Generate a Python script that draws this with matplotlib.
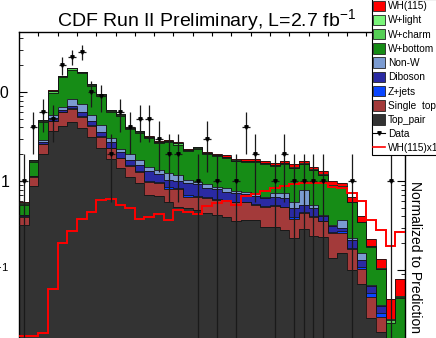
import numpy as np
import matplotlib
matplotlib.use("Agg")
import matplotlib.pyplot as plt
from matplotlib.patches import Patch
from matplotlib.lines import Line2D
from matplotlib.ticker import LogLocator, NullFormatter

plt.rcParams['font.family'] = ['Liberation Sans', 'DejaVu Sans']
plt.rcParams['mathtext.fontset'] = 'custom'
plt.rcParams['mathtext.rm'] = 'Liberation Sans'
plt.rcParams['mathtext.it'] = 'Liberation Sans:italic'
plt.rcParams['mathtext.bf'] = 'Liberation Sans:bold'

n_bins = 40
edges = np.arange(n_bins + 1)

# stack levels, each one is the running sum up to and including that sample
cum_top_pair = [0.320, 0.879, 2.01, 3.65, 4.20, 4.64, 3.97, 3.15, 2.37, 1.77,
                1.39, 1.12, 0.942, 0.696, 0.678, 0.581, 0.510, 0.497, 0.472, 0.437,
                0.415, 0.394, 0.355, 0.365, 0.365, 0.304, 0.304, 0.281, 0.229, 0.289,
                0.241, 0.235, 0.136, 0.155, 0.100, 0.0696, 0.0289, 0.0203, 0.005, 0.005]
cum_single_top = [0.399, 1.109, 2.585, 4.722, 5.914, 6.442, 5.278, 4.182, 3.147, 2.330,
                  1.799, 1.486, 1.272, 0.982, 0.950, 0.807, 0.807, 0.656, 0.666, 0.644,
                  0.612, 0.604, 0.581, 0.581, 0.544, 0.517, 0.524, 0.510, 0.374, 0.437,
                  0.399, 0.351, 0.262, 0.258, 0.172, 0.102, 0.0501, 0.0299, 0.005, 0.005]
cum_zjets = [0.404, 1.124, 2.618, 4.784, 5.991, 6.560, 5.375, 4.258, 3.204, 2.379,
             1.837, 1.512, 1.295, 1.0, 0.974, 0.850, 0.824, 0.696, 0.678, 0.656,
             0.623, 0.612, 0.585, 0.585, 0.551, 0.524, 0.531, 0.517, 0.397, 0.452,
             0.404, 0.355, 0.269, 0.276, 0.177, 0.109, 0.0547, 0.0326, 0.005, 0.005]
cum_diboson = [0.410, 1.138, 2.722, 5.065, 6.278, 6.962, 5.914, 4.722, 3.526, 2.722,
               2.101, 1.722, 1.512, 1.295, 1.198, 1.026, 1.0, 0.950, 0.925, 0.828,
               0.807, 0.758, 0.727, 0.724, 0.678, 0.644, 0.661, 0.639, 0.493, 0.538,
               0.493, 0.404, 0.312, 0.296, 0.217, 0.130, 0.0661, 0.0394, 0.005, 0.005]
cum_nonw = [0.420, 1.153, 2.888, 5.514, 6.836, 8.279, 7.274, 5.514, 4.258, 3.018,
            2.288, 1.995, 1.722, 1.437, 1.329, 1.240, 1.168, 1.026, 0.982, 0.925,
            0.850, 0.828, 0.778, 0.758, 0.714, 0.666, 0.733, 0.727, 0.585, 0.792,
            0.538, 0.415, 0.320, 0.365, 0.227, 0.154, 0.0679, 0.0404, 0.005, 0.005]
cum_wbottom = [0.544, 1.656, 4.601, 9.87, 14.55, 17.89, 16.14, 11.68, 9.02, 5.962,
               5.375, 3.838, 3.462, 3.042, 2.673, 2.743, 2.571, 2.174, 2.318, 2.011,
               1.909, 1.837, 1.678, 1.656, 1.656, 1.552, 1.474, 1.552, 1.400, 1.552,
               1.329, 1.168, 0.879, 0.856, 0.585, 0.346, 0.181, 0.1026, 0.0254, 0.0485]
cum_wcharm = [0.559, 1.699, 4.722, 10.13, 14.94, 18.37, 16.56, 11.99, 9.25, 6.117,
              5.514, 3.939, 3.552, 3.121, 2.743, 2.814, 2.639, 2.202, 2.379, 2.063,
              1.944, 1.860, 1.699, 1.678, 1.678, 1.593, 1.494, 1.593, 1.418, 1.573,
              1.346, 1.183, 0.890, 0.867, 0.587, 0.348, 0.184, 0.104, 0.0274, 0.0497]
cum_wlight = [0.573, 1.722, 4.846, 10.39, 15.25, 18.75, 16.91, 12.21, 9.42, 6.278,
              5.658, 3.991, 3.646, 3.162, 2.779, 2.836, 2.673, 2.230, 2.391, 2.080,
              1.960, 1.885, 1.722, 1.699, 1.699, 1.614, 1.512, 1.605, 1.448, 1.593,
              1.353, 1.189, 0.902, 0.879, 0.588, 0.349, 0.186, 0.1045, 0.0285, 0.0517]

# WH(115) signal, stacked on top and also drawn x10 as a line
wh115 = [0.0018, 0.0018, 0.00194, 0.00612, 0.0203, 0.0274, 0.0377, 0.0448, 0.0607, 0.062,
         0.0544, 0.0493, 0.0372, 0.0397, 0.0429, 0.0367, 0.0469, 0.0448, 0.0429, 0.0524,
         0.0566, 0.0599, 0.0531, 0.0673, 0.0718, 0.0776, 0.0828, 0.0874, 0.0921, 0.0942,
         0.0942, 0.0942, 0.0863, 0.0828, 0.0727, 0.0604, 0.0365, 0.0285, 0.0186, 0.0269]

data_counts = [1, 4, 6, 5, 20, 25, 28, 10, 9, 2,
               6, 4, 5, 5, 3, 2, 2, 0, 1, 3,
               1, 0, 1, 4, 2, 0, 1, 2, 1, 1,
               1, 1, 0, 0, 1, 0, 0, 0, 1, 0]

labels = ['WH(115)', 'W+light', 'W+charm', 'W+bottom', 'Non-W', 'Diboson',
          'Z+jets', 'Single  top', 'Top_pair']
colors = ['#ff0000', '#7af57a', '#55cf55', '#168c16', '#7b9bd1', '#2a2aa3',
          '#0a46ff', '#a33a3a', '#333333']

fig = plt.figure(figsize=(4.36, 3.38), dpi=100)
ax = fig.add_axes([19 / 436, -1 / 338, 386 / 436, 307 / 338])

wh_top = np.array(cum_wlight) + np.array(wh115)
levels = [np.full(n_bins, 1e-4), cum_top_pair, cum_single_top, cum_zjets, cum_diboson,
          cum_nonw, cum_wbottom, cum_wcharm, cum_wlight, wh_top]
stack_colors = colors[::-1]
for k in range(len(levels) - 1):
    lo = np.asarray(levels[k], float)
    hi = np.asarray(levels[k + 1], float)
    ax.stairs(hi, edges, baseline=lo, fill=True, facecolor=stack_colors[k],
              edgecolor='none', zorder=2)
    ax.stairs(hi, edges, baseline=None, color='#151515', lw=0.6, zorder=3)

ax.stairs(np.array(wh115) * 10, edges, baseline=None, color='#ff0000', lw=1.4, zorder=5)

counts = np.array(data_counts, float)
centers = edges[:-1] + 0.5
m = counts > 0
err = np.sqrt(counts[m])
err_lo = np.minimum(err, counts[m] - 1e-4)
ax.errorbar(centers[m], counts[m], yerr=[err_lo, err], xerr=0.4, fmt='v', ms=2.5,
            color='k', ecolor='#1a1a1a', elinewidth=0.9, capsize=0, zorder=6)

ax.set_yscale('log')
ax.set_xlim(0, n_bins)
ax.set_ylim(0.0168, 47.2)
ax.set_yticks([0.1, 1, 10])
ax.set_yticklabels(['$10^{-1}$', '1', '10'])
ax.yaxis.set_minor_locator(LogLocator(subs=range(2, 10)))
ax.yaxis.set_minor_formatter(NullFormatter())
ax.tick_params(axis='y', which='both', direction='in', left=True, right=True,
               labelsize=11.5, pad=7.0)
ax.tick_params(axis='y', which='major', length=6)
ax.tick_params(axis='y', which='minor', length=3)
ax.set_xticks(np.arange(2, n_bins, 2))
ax.tick_params(axis='x', which='both', direction='in', top=True, bottom=False,
               labelbottom=False, length=3)
for s in ax.spines.values():
    s.set_linewidth(1.0)

fig.text(206.5 / 436, 1 - 26 / 338, 'CDF Run II Preliminary, L=2.7 fb$^{-1}$',
         ha='center', va='baseline', fontsize=14)
fig.text(415 / 436, 1 - 256.7 / 338, 'Normalized to Prediction', rotation=270,
         ha='center', va='center', fontsize=10)

handles = [Patch(facecolor=c, edgecolor='#222222', lw=0.6) for c in colors]
handles.append(Line2D([], [], color='k', marker='v', ms=2.5, lw=0.8))
handles.append(Line2D([], [], color='#ff0000', lw=1.2))
leg = fig.legend(handles, labels + ['Data', 'WH(115)x10'], loc='upper left',
                 bbox_to_anchor=(371.7 / 436, 1 + 1 / 338), fontsize=7.3,
                 frameon=True, fancybox=False, edgecolor='black', framealpha=1,
                 borderpad=0.15, labelspacing=0.36, handlelength=1.19,
                 handleheight=1.19, handletextpad=0.27, borderaxespad=0)
leg.get_frame().set_linewidth(0.8)

fig.savefig('out.png', dpi=100)
